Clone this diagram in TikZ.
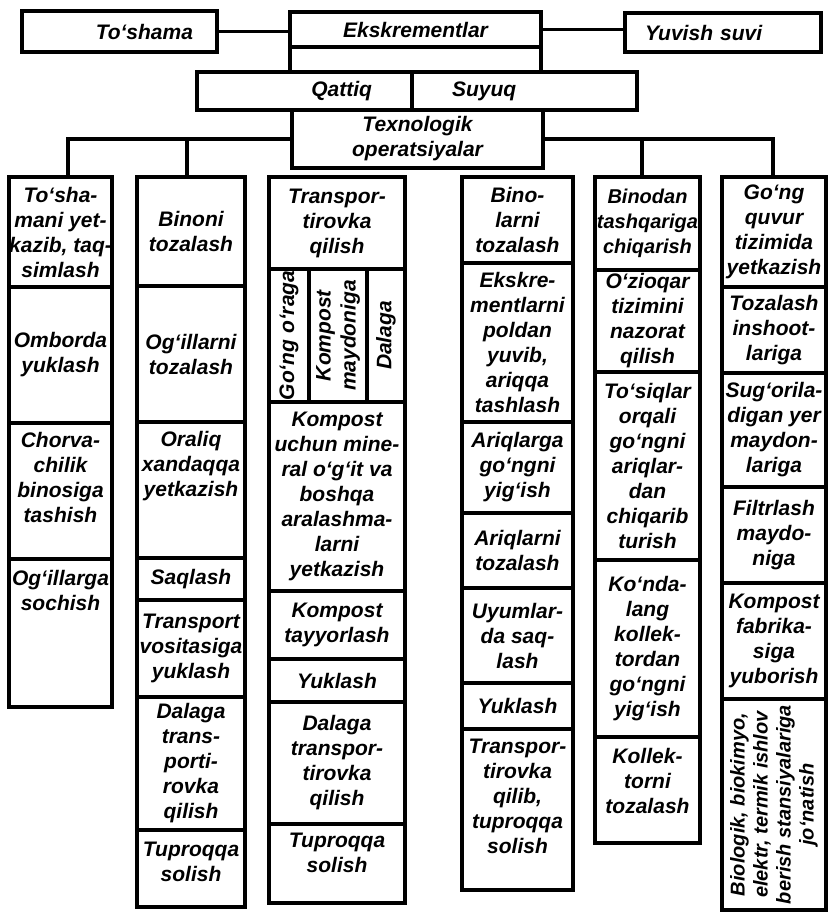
\documentclass[tikz,border=0pt]{standalone}
\usepackage{fontspec}
\setmainfont{Liberation Sans}
\usetikzlibrary{positioning}

\begin{document}
\begin{tikzpicture}[
    x=1pt, y=-1pt,
    % Box styles
    block/.style={
        rectangle,
        draw=black,
        line width=3.1pt,
        inner sep=0pt,
        outer sep=0pt,
        align=center,
        font=\fontsize{21}{25}\selectfont\bfseries\itshape
    },
    col1/.style={block, minimum width=103pt},
    col2/.style={block, minimum width=108pt},
    col3/.style={block, minimum width=136pt},
    col4/.style={block, minimum width=111pt},
    col5/.style={block, minimum width=105pt},
    col6/.style={block, minimum width=104pt},
    lifted/.style={text depth=#1},
    link/.style={draw=black, line width=3.1pt}
]
\useasboundingbox (0,0) rectangle (828,913);

% Top row
\node[block, minimum width=195pt, minimum height=41pt, text width=147pt, align=right] (tosh) at (119.5,31.5) {To‘shama};
\node[block, minimum width=251pt, minimum height=35pt] (ekskr) at (415.5,29.5) {Ekskrementlar};
\node[block, minimum width=196pt, minimum height=39pt, text width=156pt, align=left] (yuvish) at (723,32.5) {Yuvish suvi};

\node[block, minimum width=215pt, minimum height=38pt, text width=135pt, align=right] (qattiq) at (304.5,91) {Qattiq};
\node[block, minimum width=225pt, minimum height=38pt, text width=145pt, align=left] (suyuq) at (524.5,91) {Suyuq};
\node[block, minimum width=251pt, minimum height=58pt] (texno) at (417.5,139) {Texnologik\\operatsiyalar};

\draw[link] (tosh.east) -- (tosh.east -| ekskr.west);
\draw[link] (ekskr.east) -- (ekskr.east -| yuvish.west);
\draw[link] (ekskr.south west) -- (ekskr.south west |- qattiq.north);
\draw[link] (ekskr.south east) -- (ekskr.south east |- suyuq.north);

% Column 1
\node[col1, minimum height=110pt, anchor=north] (c1a) at (60.5,177) {To‘sha-\\mani yet-\\kazib, taq-\\simlash};
\node[col1, minimum height=136pt, below=0pt of c1a] (c1b) {Omborda\\yuklash};
\node[col1, minimum height=136pt, lifted=28pt, below=0pt of c1b] (c1c) {Chorva-\\chilik\\binosiga\\tashish};
\node[col1, minimum height=148pt, lifted=86pt, below=0pt of c1c] (c1d) {Og‘illarga\\sochish};

% Column 2
\node[col2, minimum height=109pt, anchor=north] (c2a) at (191,177) {Binoni\\tozalash};
\node[col2, minimum height=136pt, below=0pt of c2a] (c2b) {Og‘illarni\\tozalash};
\node[col2, minimum height=136pt, lifted=52pt, below=0pt of c2b] (c2c) {Oraliq\\xandaqqa\\yetkazish};
\node[col2, minimum height=42pt, below=0pt of c2c] (c2d) {Saqlash};
\node[col2, minimum height=97pt, below=0pt of c2d] (c2e) {Transport\\vositasiga\\yuklash};
\node[col2, minimum height=133pt, below=0pt of c2e] (c2f) {Dalaga\\trans-\\porti-\\rovka\\qilish};
\node[col2, minimum height=77pt, lifted=14pt, below=0pt of c2f] (c2g) {Tuproqqa\\solish};

% Column 3
\node[col3, minimum height=92pt, anchor=north] (c3a) at (337,177) {Transpor-\\tirovka\\qilish};
% rotated cells: east points up, south points right
\node[block, rotate=90, minimum width=133pt, minimum height=40pt, anchor=north east] (s1) at (c3a.south west) {Go‘ng o‘raga};
\node[block, rotate=90, minimum width=133pt, minimum height=58pt, anchor=north east] (s2) at (s1.south east) {Kompost\\maydoniga};
\node[block, rotate=90, minimum width=133pt, minimum height=38pt, anchor=north east] (s3) at (s2.south east) {Dalaga};
\node[col3, minimum height=189pt, below=133pt of c3a] (c3b) {Kompost\\uchun mine-\\ral o‘g‘it va\\boshqa\\aralashma-\\larni\\yetkazish};
\node[col3, minimum height=68pt, below=0pt of c3b] (c3c) {Kompost\\tayyorlash};
\node[col3, minimum height=43pt, below=0pt of c3c] (c3d) {Yuklash};
\node[col3, minimum height=122pt, below=0pt of c3d] (c3e) {Dalaga\\transpor-\\tirovka\\qilish};
\node[col3, minimum height=79pt, lifted=22pt, below=0pt of c3e] (c3f) {Tuproqqa\\solish};

% Column 4
\node[col4, minimum height=86pt, anchor=north] (c4a) at (517.5,177) {Bino-\\larni\\tozalash};
\node[col4, minimum height=159pt, below=0pt of c4a] (c4b) {Ekskre-\\mentlarni\\poldan\\yuvib,\\ariqqa\\tashlash};
\node[col4, minimum height=91pt, below=0pt of c4b] (c4c) {Ariqlarga\\go‘ngni\\yig‘ish};
\node[col4, minimum height=75pt, below=0pt of c4c] (c4d) {Ariqlarni\\tozalash};
\node[col4, minimum height=95pt, below=0pt of c4d] (c4e) {Uyumlar-\\da saq-\\lash};
\node[col4, minimum height=46pt, below=0pt of c4e] (c4f) {Yuklash};
\node[col4, minimum height=161pt, lifted=26pt, below=0pt of c4f] (c4g) {Transpor-\\tirovka\\qilib,\\tuproqqa\\solish};

% Column 5
\node[col5, minimum height=93pt, anchor=north, font=\fontsize{20}{25}\selectfont\bfseries\itshape] (c5a) at (647.5,177) {Binodan\\tashqariga\\chiqarish};
\node[col5, minimum height=102pt, below=0pt of c5a] (c5b) {O‘zioqar\\tizimini\\nazorat\\qilish};
\node[col5, minimum height=188pt, below=0pt of c5b] (c5c) {To‘siqlar\\orqali\\go‘ngni\\ariqlar-\\dan\\chiqarib\\turish};
\node[col5, minimum height=177pt, below=0pt of c5c] (c5d) {Ko‘nda-\\lang\\kollek-\\tordan\\go‘ngni\\yig‘ish};
\node[col5, minimum height=106pt, lifted=18pt, below=0pt of c5d] (c5e) {Kollek-\\torni\\tozalash};

% Column 6
\node[col6, minimum height=110pt, anchor=north] (c6a) at (774,177) {Go‘ng\\quvur\\tizimida\\yetkazish};
\node[col6, minimum height=86pt, below=0pt of c6a] (c6b) {Tozalash\\inshoot-\\lariga};
\node[col6, minimum height=114pt, below=0pt of c6b] (c6c) {Sug‘orila-\\digan yer\\maydon-\\lariga};
\node[col6, minimum height=96pt, below=0pt of c6c] (c6d) {Filtrlash\\maydo-\\niga};
\node[col6, minimum height=116pt, below=0pt of c6d] (c6e) {Kompost\\fabrika-\\siga\\yuborish};
\node[block, rotate=90, minimum width=211pt, minimum height=104pt, anchor=east,
      font=\fontsize{20}{23}\selectfont\bfseries\itshape] (c6f) at (c6e.south)
      {Biologik, biokimyo,\\elektr, termik ishlov\\berish stansiyalariga\\jo‘natish};

% Branches to the columns
\draw[link] (texno.west) -| ([xshift=7.5pt]c1a.north);
\draw[link] (texno.west) -| ([xshift=-4pt]c2a.north);
\draw[link] (texno.east) -| ([xshift=-5.5pt]c5a.north);
\draw[link] (texno.east) -| ([xshift=-1pt]c6a.north);

\end{tikzpicture}
\end{document}
